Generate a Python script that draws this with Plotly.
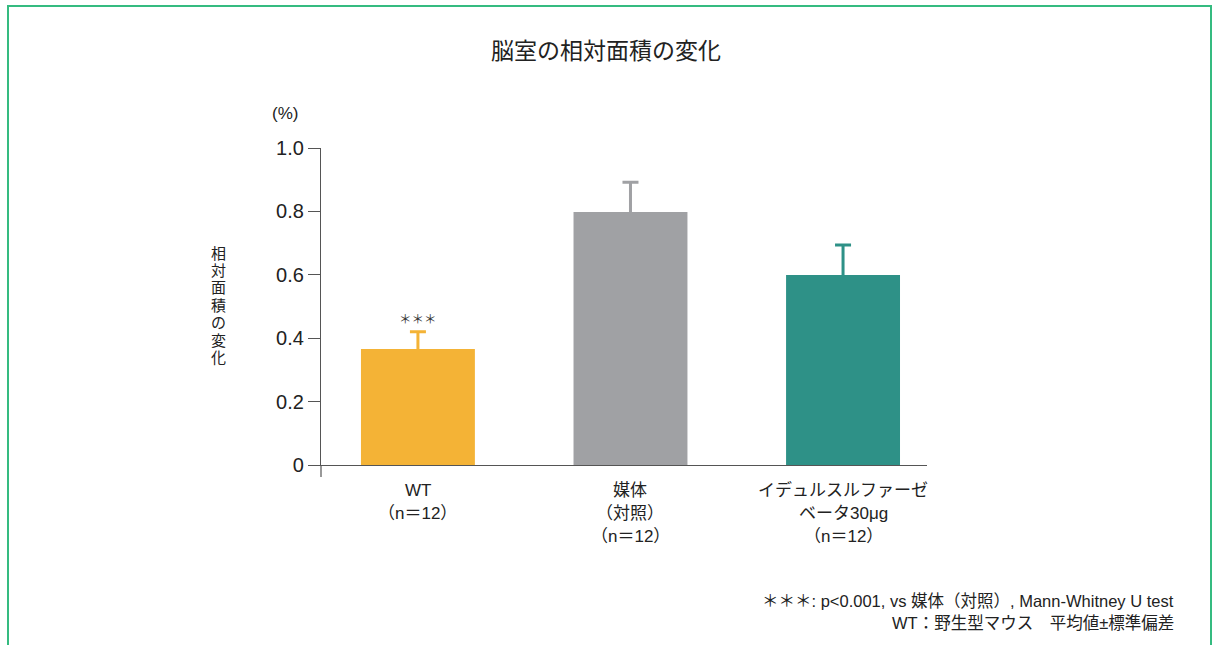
import plotly.graph_objects as go

# --- data ---
categories = ["WT", "媒体", "イデュルスルファーゼ"]
category_lines = [
    ["WT", "（n＝12）"],
    ["媒体", "（対照）", "（n＝12）"],
    ["イデュルスルファーゼ", "ベータ30μg", "（n＝12）"],
]
means = [0.366, 0.798, 0.599]
sd = [0.054, 0.094, 0.095]
colors = ["#F4B336", "#A0A1A4", "#2E9187"]
y_ticks = [0, 0.2, 0.4, 0.6, 0.8, 1.0]
y_tick_labels = ["0", "0.2", "0.4", "0.6", "0.8", "1.0"]
sig_marks = ["＊＊＊", "", ""]
y_title = "相対面積の変化"
footnotes = [
    "＊＊＊: p<0.001, vs 媒体（対照）, Mann-Whitney U test",
    "WT：野生型マウス　平均値±標準偏差",
]

FONT = "Liberation Sans, Noto Sans CJK JP, sans-serif"
JP = "Noto Sans CJK JP, sans-serif"
INK = "#222222"
AXIS = "#555555"

# plot area in pixels (page 1213 x 645)
L, R, T, B = 321, 927, 148, 465
W, H = 1213, 645
BAR_W = 0.536

def px_x(p):
    return (p - L) / (R - L)

def px_y(p):
    return (B - p) / (B - T)

fig = go.Figure()
for i, cat in enumerate(categories):
    # error bar (upper side only); its lower cap sits inside the bar and is covered by it
    fig.add_trace(go.Bar(
        x=[i], y=[means[i]], width=BAR_W,
        marker=dict(color=colors[i], opacity=0, line=dict(width=0)),
        error_y=dict(type="data", array=[sd[i]], arrayminus=[0.03], symmetric=False,
                     color=colors[i], thickness=3, width=8),
        showlegend=False, hoverinfo="skip",
    ))
    fig.add_trace(go.Bar(
        x=[i], y=[means[i]], width=BAR_W,
        marker=dict(color=colors[i], line=dict(width=0)),
        name=cat, showlegend=False, hoverinfo="skip",
    ))

annotations = []
# category labels under the axis, one annotation per line
for i, lines in enumerate(category_lines):
    for j, line in enumerate(lines):
        annotations.append(dict(
            x=i, y=0, xref="x", yref="y", text=line, showarrow=False,
            yanchor="middle", yshift=-(25 + 23 * j), align="center",
            font=dict(family=FONT, size=17, color=INK),
        ))
# significance marks above error bars
for i, m in enumerate(sig_marks):
    if m:
        annotations.append(dict(
            x=i, y=means[i] + sd[i], xref="x", yref="y", text=m, showarrow=False,
            yanchor="bottom", yshift=2,
            font=dict(family=JP, size=12.5, color="#333333"),
        ))
# vertical y-axis title, stacked characters
for k, ch in enumerate(y_title):
    annotations.append(dict(
        x=px_x(218), y=px_y(253 + 17.4 * k), xref="paper", yref="paper",
        text=ch, showarrow=False, xanchor="center", yanchor="middle",
        font=dict(family=FONT, size=15, color=INK),
    ))
# unit label
annotations.append(dict(
    x=px_x(285), y=px_y(113), xref="paper", yref="paper", text="(%)",
    showarrow=False, xanchor="center", yanchor="middle",
    font=dict(family=FONT, size=17, color=INK),
))
# chart title
annotations.append(dict(
    x=px_x(606), y=px_y(49), xref="paper", yref="paper", text="脳室の相対面積の変化",
    showarrow=False, xanchor="center", yanchor="middle",
    font=dict(family=JP, size=23, color=INK),
))
# footnotes, right-aligned
for k, note in enumerate(footnotes):
    annotations.append(dict(
        x=px_x(1176), y=px_y(601 + 22 * k), xref="paper", yref="paper",
        text=note, showarrow=False, xanchor="right", yanchor="middle",
        font=dict(family=FONT, size=16.5, color=INK),
    ))

shapes = [
    # y-axis stub below zero
    dict(type="line", xref="paper", yref="paper", x0=0, x1=0,
         y0=0, y1=px_y(477), line=dict(color=AXIS, width=1.2)),
    # green frame, open at the bottom
    dict(type="path", xref="paper", yref="paper",
         path=f"M {px_x(8)},{px_y(660)} L {px_x(8)},{px_y(6)} "
              f"L {px_x(1211)},{px_y(6)} L {px_x(1211)},{px_y(660)}",
         line=dict(color="#35BB80", width=2)),
]

fig.update_layout(
    width=W, height=H,
    margin=dict(l=L, r=W - R, t=T, b=H - B, pad=0),
    paper_bgcolor="white", plot_bgcolor="white",
    font=dict(family=FONT, color=INK),
    barmode="overlay",
    xaxis=dict(range=[-0.456, 2.395], showticklabels=False, ticks="",
               showgrid=False, zeroline=False, showline=True,
               linecolor=AXIS, linewidth=1.2, fixedrange=True),
    yaxis=dict(range=[0, 1.0], tickvals=y_ticks, ticktext=y_tick_labels,
               ticks="outside", ticklen=12, tickwidth=1.2, tickcolor=AXIS,
               tickfont=dict(family=FONT, size=20, color=INK),
               showgrid=False, zeroline=False, showline=True,
               linecolor=AXIS, linewidth=1.2, fixedrange=True),
    annotations=annotations,
    shapes=shapes,
)

fig.write_html("out.html")
